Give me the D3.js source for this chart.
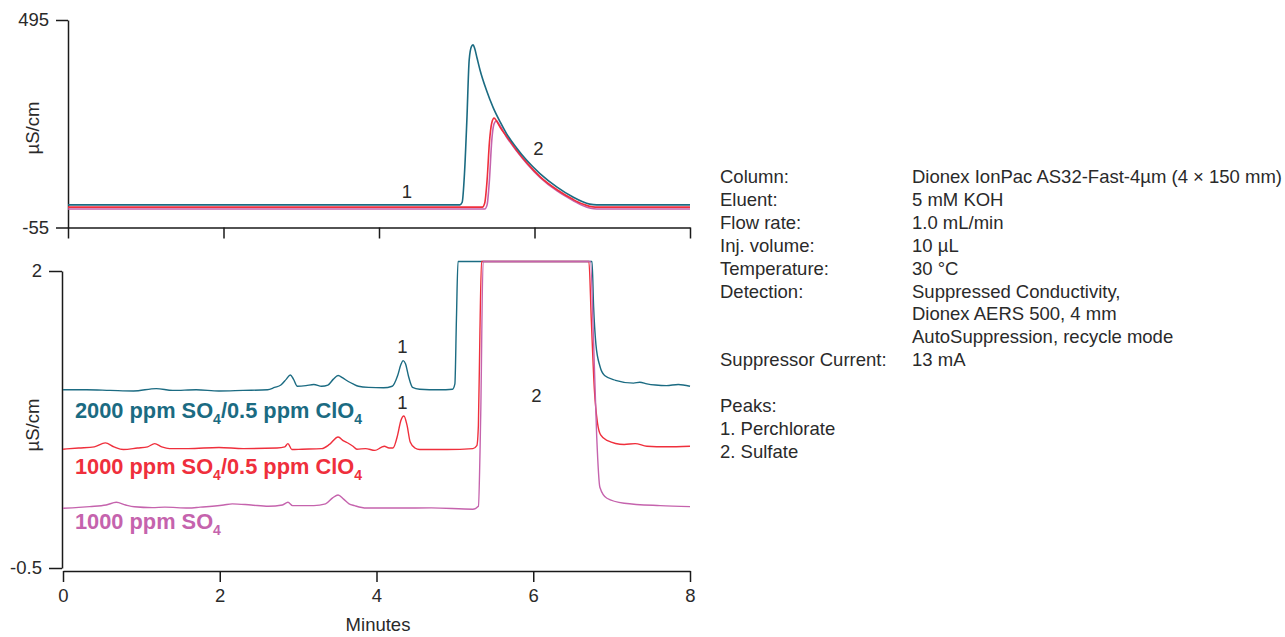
<!DOCTYPE html>
<html>
<head>
<meta charset="utf-8">
<script src="https://cdn.jsdelivr.net/npm/d3@7"></script>
<style>
  body { margin: 0; background: #fff; }
  svg { display: block; font-family: "Liberation Sans", Arial, sans-serif; }
</style>
</head>
<body>
<svg id="chart" width="1285" height="637"></svg>
<script>
// ---- data (minutes, value) ----
const minuteTicks = [0, 2, 4, 6, 8];
const topYTicks = [-55, 495];
const botYTicks = [-0.5, 2];

// upper panel, full scale (µS/cm)
const topTeal = [[0,5],[5.04,5],[5.07,12],[5.10,90],[5.13,229],[5.16,389],[5.19,425],[5.21,429],[5.23,420],[5.26,395],[5.30,362],[5.38,310],[5.47,262],[5.56,224],[5.64,194],[5.77,156],[5.90,123],[6.07,88],[6.29,52],[6.50,25],[6.62,13],[6.71,7],[6.80,5],[8,5]];
const topRed = [[0,-1],[5.33,-1],[5.36,10],[5.39,70],[5.42,170],[5.45,222],[5.48,235],[5.51,228],[5.56,210],[5.64,187],[5.77,150],[5.90,117],[6.07,80],[6.29,45],[6.50,19],[6.62,7],[6.71,1],[6.78,-1],[8,-1]];
const topPink = [[0,-6],[5.36,-6],[5.39,5],[5.42,70],[5.45,175],[5.48,220],[5.51,228],[5.54,220],[5.64,185],[5.77,148],[5.90,115],[6.07,78],[6.29,42],[6.50,16],[6.62,3],[6.72,-4],[6.80,-6],[8,-6]];

// lower panel, zoomed (offset traces)
const botTeal = [[0,1.0],[0.3,1.0],[0.6,0.995],[0.9,0.99],[1.19,1.01],[1.4,0.995],[1.7,1.0],[1.99,0.99],[2.3,0.995],[2.61,1.0],[2.7,1.02],[2.78,1.04],[2.85,1.09],[2.90,1.125],[2.94,1.09],[2.99,1.03],[3.1,1.035],[3.2,1.045],[3.3,1.03],[3.38,1.04],[3.45,1.09],[3.51,1.12],[3.57,1.1],[3.64,1.07],[3.7,1.05],[3.77,1.03],[3.9,1.02],[4.09,1.017],[4.2,1.03],[4.27,1.12],[4.31,1.21],[4.34,1.246],[4.37,1.22],[4.41,1.11],[4.46,1.02],[4.55,1.005],[4.8,1.0],[4.97,1.005],[5.0,1.05],[5.02,1.6],[5.04,2.08],[6.75,2.08],[6.77,1.7],[6.80,1.38],[6.85,1.2],[6.91,1.12],[7.05,1.08],[7.28,1.056],[7.36,1.064],[7.45,1.05],[7.56,1.04],[7.7,1.035],[7.85,1.045],[8,1.03]];
const botRed = [[0,0.5],[0.2,0.51],[0.4,0.52],[0.54,0.553],[0.65,0.52],[0.77,0.497],[0.95,0.51],[1.08,0.52],[1.17,0.547],[1.26,0.52],[1.36,0.505],[1.6,0.505],[1.99,0.514],[2.3,0.505],[2.73,0.51],[2.83,0.52],[2.87,0.547],[2.92,0.497],[3.05,0.5],[3.30,0.505],[3.40,0.54],[3.51,0.603],[3.58,0.57],[3.64,0.55],[3.7,0.525],[3.75,0.5],[3.86,0.505],[3.98,0.49],[4.06,0.515],[4.10,0.525],[4.16,0.51],[4.21,0.51],[4.27,0.62],[4.31,0.74],[4.35,0.78],[4.39,0.7],[4.43,0.56],[4.49,0.51],[4.55,0.497],[4.9,0.497],[5.23,0.505],[5.28,0.53],[5.30,0.7],[5.32,1.5],[5.34,2.08],[6.71,2.08],[6.74,1.6],[6.78,1.0],[6.82,0.72],[6.86,0.62],[6.94,0.575],[7.16,0.54],[7.3,0.547],[7.45,0.525],[7.7,0.52],[8,0.525]];
const botPink = [[0,0.003],[0.2,0.01],[0.34,0.017],[0.55,0.03],[0.68,0.053],[0.8,0.03],[0.91,0.015],[1.14,0.008],[1.3,0.012],[1.6,0.005],[1.75,0.012],[2.05,0.03],[2.16,0.04],[2.4,0.03],[2.62,0.02],[2.8,0.03],[2.87,0.053],[2.93,0.025],[3.2,0.025],[3.35,0.04],[3.44,0.09],[3.51,0.115],[3.58,0.08],[3.65,0.04],[3.72,0.025],[3.87,0.005],[4.3,0.005],[4.7,0.006],[5.23,-0.005],[5.30,0.02],[5.33,0.8],[5.36,2.08],[6.73,2.08],[6.77,1.4],[6.81,0.6],[6.85,0.18],[6.94,0.087],[7.16,0.045],[7.62,0.025],[8,0.017]];

const sampleNames = [
  ["2000 ppm SO", "4", "/0.5 ppm ClO", "4"],
  ["1000 ppm SO", "4", "/0.5 ppm ClO", "4"],
  ["1000 ppm SO", "4"]
];
const conditionLabels = ["Column:", "Eluent:", "Flow rate:", "Inj. volume:", "Temperature:", "Detection:", "", "", "Suppressor Current:"];
const conditionValues = ["Dionex IonPac AS32-Fast-4µm (4 × 150 mm)", "5 mM KOH", "1.0 mL/min", "10 µL", "30 °C", "Suppressed Conductivity,", "Dionex AERS 500, 4 mm", "AutoSuppression, recycle mode", "13 mA"];
const peakList = ["Peaks:", "1. Perchlorate", "2. Sulfate"];

const colors = { teal: "#1b6b82", red: "#ef2f3c", pink: "#c563ad" };
const axisColor = "#1a1a1a";
const textColor = "#2a2a2a";
const fs = "18.5px";

const svg = d3.select("#chart");

// ---- scales ----
const xTop = d3.scaleLinear().domain([0, 8]).range([68, 690]);
const yTop = d3.scaleLinear().domain([-55, 495]).range([227.5, 20]);
const xBot = d3.scaleLinear().domain([0, 8]).range([63, 690]);
const yBot = d3.scaleLinear().domain([-0.5, 2]).range([568, 271]);

function styleAxis(g) {
  g.selectAll("path, line").attr("stroke", axisColor).attr("stroke-width", 1.5);
  g.selectAll("text").attr("fill", textColor).style("font-size", fs)
    .style("font-family", "'Liberation Sans', Arial, sans-serif");
}
const plainNum = d => String(d);

// top panel axes
svg.append("g")
  .attr("transform", "translate(68,0)")
  .call(d3.axisLeft(yTop).tickValues(topYTicks).tickSize(12).tickSizeOuter(0).tickPadding(7).tickFormat(plainNum))
  .call(styleAxis);
svg.append("g")
  .attr("transform", "translate(0,227.5)")
  .call(d3.axisBottom(xTop).tickValues(minuteTicks).tickSize(11).tickSizeOuter(0).tickFormat(""))
  .call(styleAxis);

// bottom panel axes
svg.append("g")
  .attr("transform", "translate(62,0)")
  .call(d3.axisLeft(yBot).tickValues(botYTicks).tickSize(13).tickSizeOuter(0).tickPadding(7).tickFormat(plainNum))
  .call(styleAxis);
svg.append("g")
  .attr("transform", "translate(0,571)")
  .call(d3.axisBottom(xBot).tickValues(minuteTicks).tickSize(11).tickSizeOuter(0).tickPadding(7).tickFormat(plainNum))
  .call(styleAxis);

// axis titles
svg.append("text").attr("transform", "translate(39,128) rotate(-90)")
  .attr("text-anchor", "middle").attr("fill", textColor).style("font-size", fs).text("µS/cm");
svg.append("text").attr("transform", "translate(39,425) rotate(-90)")
  .attr("text-anchor", "middle").attr("fill", textColor).style("font-size", fs).text("µS/cm");
svg.append("text").attr("x", 378).attr("y", 631)
  .attr("text-anchor", "middle").attr("fill", textColor).style("font-size", fs).text("Minutes");

// traces
const lineTop = d3.line().x(d => xTop(d[0])).y(d => yTop(d[1])).curve(d3.curveMonotoneX);
const lineBot = d3.line().x(d => xBot(d[0])).y(d => yBot(d[1])).curve(d3.curveMonotoneX);

const topSeries = [[topPink, colors.pink], [topRed, colors.red], [topTeal, colors.teal]];
svg.append("g").selectAll("path").data(topSeries).join("path")
  .attr("d", d => lineTop(d[0]))
  .attr("fill", "none").attr("stroke", d => d[1]).attr("stroke-width", 1.6);

const botSeries = [[botTeal, colors.teal], [botRed, colors.red], [botPink, colors.pink]];
svg.append("g").selectAll("path").data(botSeries).join("path")
  .attr("d", d => lineBot(d[0]))
  .attr("fill", "none").attr("stroke", d => d[1]).attr("stroke-width", 1.4);

// peak numbers
const peakMarks = [
  [xTop(4.36), 198, "1"], [xTop(6.05), 155, "2"],
  [xBot(4.33), 353, "1"], [xBot(4.33), 409, "1"], [xBot(6.04), 402, "2"]
];
svg.append("g").selectAll("text").data(peakMarks).join("text")
  .attr("x", d => d[0]).attr("y", d => d[1])
  .attr("text-anchor", "middle").attr("fill", textColor).style("font-size", fs)
  .text(d => d[2]);

// sample labels with subscripts
const sampleColors = [colors.teal, colors.red, colors.pink];
const sampleY = [418, 474, 529];
sampleNames.forEach((parts, i) => {
  const t = svg.append("text").attr("x", 75).attr("y", sampleY[i])
    .attr("fill", sampleColors[i]).style("font-size", "21.8px").style("font-weight", "bold");
  parts.forEach((p, j) => {
    const sub = j % 2 === 1;
    t.append("tspan").style("font-size", sub ? "14px" : "21.8px")
      .attr("dy", sub ? 6 : (j > 0 ? -6 : 0)).text(p);
  });
});

// conditions block
const info = svg.append("g").attr("fill", textColor).style("font-size", fs);
conditionLabels.forEach((s, i) => {
  info.append("text").attr("x", 720).attr("y", 183 + i * 22.9).text(s);
});
conditionValues.forEach((s, i) => {
  info.append("text").attr("x", 912).attr("y", 183 + i * 22.9).text(s);
});
peakList.forEach((s, i) => {
  info.append("text").attr("x", 720).attr("y", 412 + i * 22.9).text(s);
});
</script>
</body>
</html>
